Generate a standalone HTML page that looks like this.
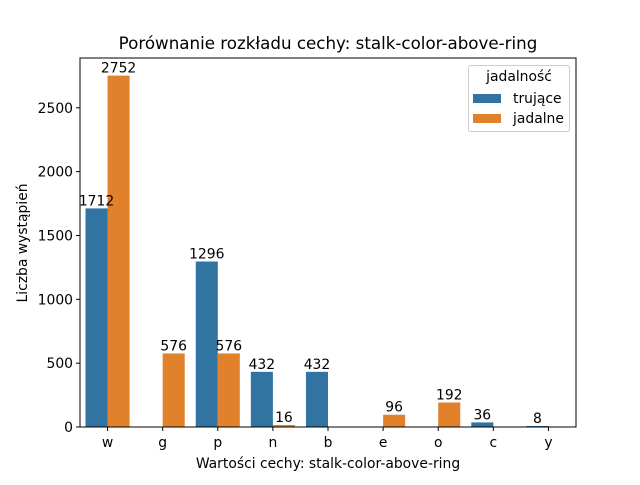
<!DOCTYPE html>
<html><head><meta charset="utf-8"><style>
body{margin:0;background:#fff}
svg text{font-family:"DejaVu Sans","Liberation Sans",sans-serif;fill:#000}
</style></head><body>
<svg id="chart" width="640" height="480" xmlns="http://www.w3.org/2000/svg">
<rect width="640" height="480" fill="#fff"/>
<text x="328" y="49" font-size="16.7" text-anchor="middle">Porównanie rozkładu cechy: stalk-color-above-ring</text>
<g id="bars"></g>
<g id="labels"></g>
<rect x="80" y="58" width="496" height="369" fill="none" stroke="#000" stroke-width="1"/>
<g id="axes"></g>
<text x="328" y="468" font-size="13.9" text-anchor="middle">Wartości cechy: stalk-color-above-ring</text>
<text transform="translate(27,243) rotate(-90)" font-size="13.9" text-anchor="middle">Liczba wystąpień</text>
<g>
<rect x="468.5" y="65.5" width="101" height="66" rx="2" fill="#fff" fill-opacity="0.8" stroke="#ccc"/>
<text x="519" y="81" font-size="13.9" text-anchor="middle">jadalność</text>
<rect x="473" y="94" width="28" height="9" fill="#3274a1"/>
<text x="513" y="103" font-size="13.9">trujące</text>
<rect x="473" y="114" width="28" height="9" fill="#e1812c"/>
<text x="513" y="123" font-size="13.9">jadalne</text>
</g>
</svg>
<script>
const categories=["w","g","p","n","b","e","o","c","y"];
const trujace=[1712,0,1296,432,432,0,0,36,8];
const jadalne=[2752,576,576,16,0,96,192,0,0];
const yTicks=[0,500,1000,1500,2000,2500];
const NS="http://www.w3.org/2000/svg";
const L=80,R=576,T=58,B=427,yMax=2890;
function y(v){return B-v/yMax*(B-T);}
const step=(R-L)/categories.length;
function xc(i){return L+step*(i+0.5);}
const bw=step*0.4;
function mk(tag,attrs,parent,txt){const e=document.createElementNS(NS,tag);for(const k in attrs)e.setAttribute(k,attrs[k]);if(txt!==undefined)e.textContent=txt;parent.appendChild(e);return e;}
const bars=document.getElementById('bars'),labels=document.getElementById('labels'),axes=document.getElementById('axes');
[[trujace,"#3274a1",-1,"trujace"],[jadalne,"#e1812c",0,"jadalne"]].forEach(([arr,col,off,nm])=>{
 arr.forEach((v,i)=>{
  if(!v)return;
  const x0=xc(i)+off*bw;
  const r=mk('rect',{x:x0,y:y(v),width:bw,height:B-y(v),fill:col},bars);
  
  
  const t=mk('text',{x:x0+bw/2,y:y(v)-3,'font-size':13.9,'text-anchor':'middle'},labels,String(v));
  
  
 });
});
categories.forEach((c,i)=>{
 mk('line',{x1:xc(i),x2:xc(i),y1:B,y2:B+4,stroke:'#000'},axes);
 const t=mk('text',{x:xc(i),y:B+20,'font-size':13.9,'text-anchor':'middle'},axes,c);
 
 
});
yTicks.forEach(v=>{
 mk('line',{x1:L-4,x2:L,y1:y(v),y2:y(v),stroke:'#000'},axes);
 const t=mk('text',{x:L-7,y:y(v)+5,'font-size':13.9,'text-anchor':'end'},axes,String(v));
 
 
});
</script>
</body></html>
